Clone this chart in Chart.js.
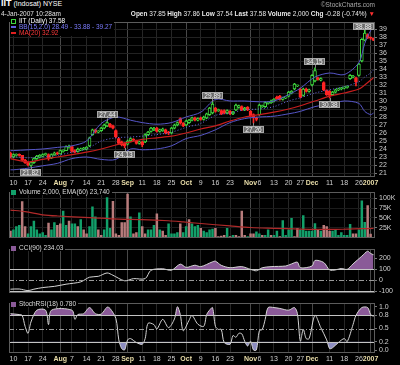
<!DOCTYPE html>
<html><head><meta charset="utf-8">
<script src="https://cdn.jsdelivr.net/npm/chart.js@4.4.1/dist/chart.umd.min.js"></script>
<style>
body{margin:0;background:#000;width:400px;height:365px;overflow:hidden;position:relative;font-family:"Liberation Sans",Arial,sans-serif;color:#e8e8e8}
canvas{position:absolute}
.t{position:absolute;white-space:nowrap;font-size:6.5px;line-height:7px;z-index:3}
.lg{background:#000;padding:0 2px 0 1px}
.ic{display:inline-block;width:5px;height:5px;margin-right:3px;vertical-align:-0.5px}
.dash{display:inline-block;width:5px;height:2px;margin-right:3px;vertical-align:1.5px}
b{font-weight:bold}
</style></head><body>

<div class="t" style="left:1px;top:0px;font-size:7px;color:#fff"><b style="font-size:9px">IIT</b> (Indosat) NYSE</div>
<div class="t" style="left:1px;top:10px;color:#e0e0e0">4-Jan-2007 10:28am</div>
<div class="t" style="right:25px;top:1px;color:#a8a8a8">©StockCharts.com</div>
<div class="t" style="right:25px;top:10px;color:#e8e8e8"><b>Open</b> 37.85 <b>High</b> 37.86 <b>Low</b> 37.54 <b>Last</b> 37.58 <b>Volume</b> 2,000 <b>Chg</b> -0.28 (-0.74%) <span style="color:#ff3030">▼</span></div>

<div class="t lg" style="left:10px;top:18px;line-height:6px">
<div style="color:#fff"><span class="ic" style="width:3px;border:1px solid #3fd83f;height:3px"></span>IIT (Daily) 37.58</div>
<div style="color:#7c7cff"><span class="dash" style="background:#6060e0"></span>BB(15,2.0) 28.49 - 33.88 - 39.27</div>
<div style="color:#ff3a3a"><span class="dash" style="background:#e02020"></span>MA(20) 32.92</div>
</div>
<div class="t lg" style="left:10px;top:188px;color:#dcdcdc"><span class="ic" style="background:#12a06a"></span>Volume 2,000, EMA(60) 23,740</div>
<div class="t lg" style="left:10px;top:244px;color:#dcdcdc"><span class="ic" style="background:#8a5a98"></span>CCI(90) 234.03</div>
<div class="t lg" style="left:10px;top:300px;color:#dcdcdc"><span class="ic" style="background:#8a5a98"></span>StochRSI(18) 0.780</div>

<canvas id="cp" width="392" height="176" style="left:8px;top:16px;width:392px;height:176px"></canvas>
<canvas id="cv" width="392" height="58" style="left:8px;top:186px;width:392px;height:58px"></canvas>
<canvas id="cc" width="392" height="56" style="left:8px;top:243px;width:392px;height:56px"></canvas>
<canvas id="cr" width="392" height="68" style="left:8px;top:297px;width:392px;height:68px"></canvas>

<script>
// ---------- DATA ----------
const dates = ['Jul 7','Jul 10','Jul 11','Jul 12','Jul 13','Jul 14','Jul 17','Jul 18','Jul 19','Jul 20','Jul 21','Jul 24','Jul 25','Jul 26','Jul 27','Jul 28','Jul 31',
'Aug 1','Aug 2','Aug 3','Aug 4','Aug 7','Aug 8','Aug 9','Aug 10','Aug 11','Aug 14','Aug 15','Aug 16','Aug 17','Aug 18','Aug 21','Aug 22','Aug 23','Aug 24','Aug 25','Aug 28','Aug 29','Aug 30','Aug 31',
'Sep 1','Sep 5','Sep 6','Sep 7','Sep 8','Sep 11','Sep 12','Sep 13','Sep 14','Sep 15','Sep 18','Sep 19','Sep 20','Sep 21','Sep 22','Sep 25','Sep 26','Sep 27','Sep 28','Sep 29',
'Oct 2','Oct 3','Oct 4','Oct 5','Oct 6','Oct 9','Oct 10','Oct 11','Oct 12','Oct 13','Oct 16','Oct 17','Oct 18','Oct 19','Oct 20','Oct 23','Oct 24','Oct 25','Oct 26','Oct 27','Oct 30','Oct 31',
'Nov 1','Nov 2','Nov 3','Nov 6','Nov 7','Nov 8','Nov 9','Nov 10','Nov 13','Nov 14','Nov 15','Nov 16','Nov 17','Nov 20','Nov 21','Nov 22','Nov 24','Nov 27','Nov 28','Nov 29','Nov 30',
'Dec 1','Dec 4','Dec 5','Dec 6','Dec 7','Dec 8','Dec 11','Dec 12','Dec 13','Dec 14','Dec 15','Dec 18','Dec 19','Dec 20','Dec 21','Dec 22','Dec 26','Dec 27','Dec 28','Dec 29',
'Jan 3','Jan 4'];

const openP = [23.5,23.0,23.2,23.3,23.2,22.6,22.3,21.95,22.3,22.8,
 23.0,23.1,23.3,23.3,22.9,23.3,23.5,23.4,23.7,23.8,
 24.2,24.3,23.8,23.7,23.9,24.0,24.0,24.4,25.8,26.4,
 26.1,26.3,26.6,26.9,27.1,26.9,26.3,25.3,24.9,24.7,
 24.6,25.0,25.2,25.0,24.7,24.9,24.9,25.8,26.2,26.4,
 26.6,26.2,26.3,26.4,26.1,26.0,26.6,27.0,27.8,27.2,
 27.0,27.3,27.6,27.9,27.6,27.9,27.7,27.9,28.3,28.5,
 29.1,28.8,28.8,28.8,28.5,28.7,28.4,28.9,29.2,29.3,
 28.9,29.2,28.7,28.3,27.9,28.3,29.3,29.3,29.7,29.8,
 30.0,30.5,30.6,30.2,30.4,30.6,31.0,31.5,31.9,31.5,
 30.7,31.5,31.2,32.0,32.5,32.9,32.6,32.3,31.3,31.2,
 30.8,31.1,31.4,31.5,31.6,31.7,32.8,33.0,32.9,33.2,
 35.0,37.6,38.3,37.9,37.85];
const highP = [23.6,23.4,23.4,23.4,23.2,22.7,22.4,22.4,22.9,23.2,
 23.3,23.4,23.5,23.4,23.4,23.6,23.6,23.9,23.9,24.4,
 24.5,24.3,23.9,24.1,24.1,24.2,24.3,25.5,26.5,26.5,
 26.3,26.7,27.1,27.44,27.2,27.0,26.4,25.4,25.0,24.8,
 25.1,25.4,25.3,25.1,25.0,25.0,25.9,26.2,26.7,26.7,
 26.7,26.5,26.6,26.5,26.2,26.7,27.1,27.4,27.9,27.3,
 27.6,27.7,28.0,28.0,27.9,28.0,28.1,28.5,29.2,29.89,
 29.2,29.0,28.9,28.9,28.9,28.8,28.7,29.6,29.5,29.4,
 29.2,29.3,28.8,28.4,28.0,29.6,29.5,29.9,29.9,30.1,
 30.3,30.6,30.7,30.5,30.5,31.2,31.3,32.2,32.0,31.6,
 31.6,31.6,31.5,33.3,34.15,33.0,32.9,32.4,31.4,31.3,
 31.2,31.5,31.6,31.7,31.8,31.9,33.3,33.2,33.0,34.7,
 37.8,38.88,38.4,38.0,37.86];
const lowP = [22.9,22.9,23.1,23.1,22.5,22.2,21.9,21.82,22.2,22.7,
 22.9,23.0,23.2,22.6,22.8,23.2,23.3,23.4,23.6,23.8,
 24.1,23.6,23.5,23.6,23.8,23.9,23.9,24.3,25.7,26.0,
 26.0,26.2,26.5,26.8,26.7,26.5,25.4,24.6,24.4,24.13,
 24.5,24.9,25.0,24.6,24.6,24.3,24.8,25.7,26.1,26.3,
 26.1,26.1,26.2,25.9,25.8,25.9,26.5,26.9,27.1,26.8,
 26.9,27.2,27.5,27.5,27.5,27.6,27.6,27.8,28.2,28.4,
 28.6,28.7,28.3,28.4,28.4,28.3,28.3,28.8,29.1,28.8,
 28.8,28.8,28.0,27.26,27.5,28.2,29.2,29.2,29.6,29.7,
 29.9,30.2,30.1,30.1,30.3,30.5,30.9,31.4,31.8,30.4,
 30.6,31.1,31.1,31.9,32.4,32.6,32.5,31.3,30.7,30.38,
 30.7,31.0,31.3,31.4,31.5,31.6,32.7,32.9,31.9,33.1,
 34.9,37.5,37.8,37.7,37.54];
const closeP = [23.0,23.3,23.3,23.2,22.6,22.3,22.0,22.3,22.8,23.1,
 23.2,23.3,23.4,22.8,23.3,23.5,23.4,23.8,23.8,24.3,
 24.3,23.7,23.6,24.0,24.0,24.1,24.2,25.4,26.4,26.1,
 26.2,26.6,27.0,27.3,26.8,26.6,25.5,24.7,24.5,24.4,
 25.0,25.3,25.1,24.7,24.9,24.5,25.8,26.1,26.6,26.6,
 26.2,26.4,26.5,26.0,26.0,26.6,27.0,27.3,27.3,26.9,
 27.5,27.6,27.9,27.6,27.8,27.7,28.0,28.4,29.1,29.6,
 28.7,28.9,28.4,28.5,28.8,28.4,28.6,29.5,29.4,28.9,
 29.1,28.9,28.1,28.0,27.7,29.5,29.4,29.8,29.8,30.0,
 30.2,30.3,30.2,30.4,30.4,31.1,31.2,32.1,31.9,30.5,
 31.5,31.2,31.4,33.2,33.8,32.7,32.8,31.4,30.8,30.7,
 31.1,31.4,31.5,31.6,31.7,31.8,33.2,33.1,32.4,34.6,
 37.7,38.5,37.9,37.86,37.58];

// Bollinger (15,2) and MA(20), read at weekly points
const bandDates = ['Jul 7','Jul 10','Jul 17','Jul 24','Jul 31','Aug 7','Aug 14','Aug 21','Aug 28','Sep 5','Sep 11','Sep 18','Sep 25','Oct 2','Oct 9','Oct 16','Oct 23','Oct 30','Nov 6','Nov 13','Nov 20','Nov 27','Dec 4','Dec 11','Dec 18','Dec 26','Dec 28','Jan 3','Jan 4'];
const bbUpper = [23.8,23.8,23.9,24.0,24.2,24.4,25.0,27.2,28.0,27.6,27.3,27.1,27.3,28.0,28.6,30.2,30.0,30.0,29.9,30.0,30.8,31.6,33.0,33.5,33.3,34.8,37.2,38.8,39.27];
const bbMid   = [23.0,23.0,22.9,23.0,23.2,23.6,24.0,25.0,25.4,25.5,25.6,25.8,26.1,26.7,27.2,28.2,28.5,28.9,29.0,29.3,30.0,30.4,31.0,31.4,31.8,32.4,33.0,33.5,33.88];
const bbLower = [21.4,21.4,21.6,21.9,22.2,22.8,23.0,22.7,22.7,24.0,23.9,24.0,24.4,25.3,25.7,26.4,27.3,27.8,28.0,28.1,28.4,28.7,29.3,29.6,30.0,29.7,28.7,28.3,28.49];
const ma20    = [22.8,22.7,22.4,22.7,23.0,23.3,23.6,24.0,24.5,24.9,25.2,25.4,25.6,26.0,26.5,26.9,27.5,28.0,28.3,28.6,29.0,29.4,30.0,30.6,31.0,31.5,32.0,32.6,32.92];

// Labelled extremes
const markDates = ['Jul 18','Aug 23','Aug 31','Oct 13','Nov 2','Dec 4','Dec 11','Dec 28'];
const markVals  = [21.82,27.44,24.13,29.89,27.26,34.15,30.38,38.88];
const markSide  = ['below','above','below','above','below','above','below','above'];

// Volume (thousands) and up/down flag
const volK = [18,21,29,32,92,29,11,29,43,21,
 11,14,7,38,21,39,32,36,68,32,
 43,36,36,29,47,21,11,29,79,54,
 21,7,21,102,25,93,11,7,39,39,
 111,54,11,14,64,29,11,21,21,32,
 61,21,18,7,36,11,11,14,36,14,
 29,47,36,29,32,25,18,14,21,23,
 25,4,5,7,25,4,7,7,4,68,
 7,4,11,11,16,11,7,7,21,7,
 7,18,4,44,7,21,50,4,25,21,
 57,18,18,18,37,21,18,32,29,18,
 18,21,7,14,7,7,35,11,11,21,
 94,40,82,10,2];
const volDir = ['d','u','u','u','d','d','u','u','u','u',
 'u','u','u','d','u','u','d','d','u','u',
 'd','u','u','d','u','d','d','u','u','u',
 'd','d','u','u','u','d','d','d','d','d',
 'd','u','d','d','u','d','d','u','u','u',
 'd','u','d','d','u','u','u','u','d','u',
 'u','d','u','u','u','d','u','u','u','u',
 'd','d','d','d','u','d','u','d','d','d',
 'd','u','d','d','u','u','d','u','u','d',
 'u','u','d','u','u','u','u','d','d','u',
 'u','u','u','u','u','d','u','d','d','d',
 'u','u','u','u','u','u','u','d','d','u',
 'u','u','d','d','d'];
const emaDates = ['Jul 7','Jul 14','Jul 24','Jul 31','Aug 15','Aug 29','Sep 11','Sep 22','Sep 29','Oct 9','Oct 23','Nov 1','Nov 13','Nov 27','Dec 12','Dec 19','Dec 27','Jan 4'];
const emaVals  = [70,66,58,55,51,47,46,43,40,36,30,26,24,22,21,22,23,23.74];

// CCI(90)
const cciDates = ['Jul 7','Jul 12','Jul 17','Jul 19','Jul 24','Jul 28','Aug 3','Aug 10','Aug 15','Aug 18','Aug 23','Aug 25','Aug 31','Sep 6','Sep 12','Sep 14','Sep 20','Sep 25','Sep 28','Oct 2','Oct 5','Oct 9','Oct 13','Oct 16','Oct 18','Oct 23','Oct 27','Nov 1','Nov 3','Nov 7','Nov 10','Nov 17','Nov 21','Nov 24','Nov 27','Dec 1','Dec 4','Dec 7','Dec 11','Dec 13','Dec 15','Dec 19','Dec 21','Dec 27','Dec 29','Jan 3','Jan 4'];
const cciVals  = [-82,-80,-95,-82,-67,-56,-36,-15,28,36,67,46,-5,15,15,92,105,92,148,118,138,125,169,175,137,115,125,100,87,115,125,131,150,166,115,131,182,163,95,95,108,100,150,221,267,246,234.03];

// StochRSI(18)
const rsiDates = ['Jul 7','Jul 12','Jul 13','Jul 14','Jul 17','Jul 18','Jul 20','Jul 25','Jul 26','Jul 27','Aug 7','Aug 8','Aug 9','Aug 11','Aug 15','Aug 17','Aug 21','Aug 23','Aug 24','Aug 28','Aug 29','Aug 30','Aug 31','Sep 1','Sep 5','Sep 7','Sep 11','Sep 12','Sep 13','Sep 15','Sep 18','Sep 20','Sep 22','Sep 26','Sep 27','Sep 28','Sep 29','Oct 3','Oct 4','Oct 6','Oct 10','Oct 11','Oct 12','Oct 13','Oct 16','Oct 17','Oct 18','Oct 19','Oct 23','Oct 24','Oct 25','Oct 26','Oct 27','Oct 30','Oct 31','Nov 1','Nov 2','Nov 3','Nov 6','Nov 7','Nov 8','Nov 9','Nov 13','Nov 15','Nov 20','Nov 22','Nov 24','Nov 27','Nov 28','Nov 29','Nov 30','Dec 4','Dec 6','Dec 8','Dec 11','Dec 12','Dec 14','Dec 18','Dec 19','Dec 21','Dec 22','Dec 27','Dec 29','Jan 3','Jan 4'];
const rsiVals  = [0.84,0.82,0.80,0.55,0.39,0.65,0.92,0.92,0.59,0.92,0.92,0.71,0.82,0.84,0.98,0.84,0.83,0.99,0.96,0.73,0.24,0.04,0.01,0.24,0.27,0.18,0.14,0.27,0.62,0.59,0.49,0.71,0.52,0.72,1.0,0.82,0.45,0.69,0.80,0.60,0.55,0.82,0.92,0.98,0.55,0.48,0.48,0.18,0.14,0.34,0.30,0.39,0.38,0.21,0.10,0.21,0.01,0.01,0.45,0.48,0.71,0.98,0.98,0.96,0.92,0.98,0.84,0.21,0.48,0.27,0.27,0.80,0.52,0.24,0.04,0.06,0.18,0.27,0.20,0.59,0.80,0.98,0.98,0.82,0.78];

// Axis ticks
const tickDates = ['Jul 10','Jul 17','Jul 24','Aug 1','Aug 7','Aug 14','Aug 21','Aug 28','Sep 1','Sep 11','Sep 18','Sep 25','Oct 2','Oct 9','Oct 16','Oct 23','Nov 1','Nov 6','Nov 13','Nov 20','Nov 27','Dec 1','Dec 11','Dec 18','Dec 26','Jan 3'];
const tickText  = ['10','17','24','Aug','7','14','21','28','Sep','11','18','25','Oct','9','16','23','Nov','6','13','20','27','Dec','11','18','26','2007'];
const priceTicks = [21,22,23,24,25,26,27,28,29,30,31,32,33,34,35,36,37,38,39];
const volTicks = [25,50,75,100];
const cciTicks = [-100,0,100,200];
const rsiTicks = [0,0.2,0.5,0.8,1.0];
const cciLevels = [100,0,-100];
const rsiLevels = [0.8,0.5,0.2];

// ---------- RENDER ----------
const FONT = '"Liberation Sans", Arial, sans-serif';
Chart.defaults.font.family = FONT;
Chart.defaults.font.size = 7;
Chart.defaults.color = '#cfcfcf';
Chart.defaults.animation = false;
Chart.defaults.events = [];
Chart.defaults.plugins.legend.display = false;
Chart.defaults.plugins.tooltip.enabled = false;

const tickMap = {};
tickDates.forEach((d,k)=>{ tickMap[d] = tickText[k]; });
const isMonth = t => /[A-Za-z]/.test(t) || t === '2007';
const pts = (ds, vs) => ds.map((d,k)=>({x:d, y:vs[k]}));

function xAxis(showLabels, h){
  return {
    type:'category', offset:true,
    grid:{offset:false, drawTicks:false, lineWidth:1,
      color:c=>{ const t = tickMap[dates[c.index]]; if(t===undefined) return 'rgba(0,0,0,0)'; return isMonth(t)?'#484848':'#262626'; }},
    border:{display:false},
    ticks:{display:showLabels, autoSkip:false, maxRotation:0, minRotation:0, padding:2,
      callback:(v,i)=> tickMap[dates[i]] || '',
      color:c=>{ const t = tickMap[dates[c.index]]; return (t && isMonth(t)) ? '#e8dca8' : '#cfcfcf'; },
      font:c=>{ const t = tickMap[dates[c.index]]; return {family:FONT, size:7, weight:(t && isMonth(t))?'bold':'normal'}; }},
    afterFit:s=>{ s.height = h; }
  };
}
function yAxis(min, max, ticksArr, fmt, gridCol){
  return {
    position:'right', min, max,
    afterBuildTicks:s=>{ s.ticks = ticksArr.map(v=>({value:v})); },
    grid:{color:gridCol || 'rgba(0,0,0,0)', drawOnChartArea: gridCol !== null, drawTicks:true, tickLength:2, tickColor:'#777'},
    border:{display:false},
    ticks:{padding:2, color:'#cfcfcf', autoSkip:false, callback:v=>fmt(v)},
    afterFit:s=>{ s.width = 25; }
  };
}
const framePlugin = {id:'frame', afterDraw(chart){
  const {ctx, chartArea:a} = chart;
  ctx.save(); ctx.strokeStyle = '#5c5c5c'; ctx.lineWidth = 1;
  ctx.strokeRect(Math.round(a.left)+0.5, Math.round(a.top)+0.5, Math.round(a.right-a.left)-1, Math.round(a.bottom-a.top)-1);
  ctx.restore();
}};
const refPlugin = {id:'refLines', afterDatasetsDraw(chart, args, opts){
  if(!opts || !opts.levels) return;
  const {ctx, chartArea:a} = chart; const ys = chart.scales.y;
  ctx.save();
  opts.levels.forEach((v,k)=>{
    const y = Math.round(ys.getPixelForValue(v)) + 0.5;
    const mid = k === 1;
    ctx.strokeStyle = mid ? '#9a9a9a' : '#c4c4c4';
    ctx.setLineDash(mid ? [5,2,1,2] : []);
    ctx.beginPath(); ctx.moveTo(a.left, y); ctx.lineTo(a.right, y); ctx.stroke();
  });
  ctx.restore();
}};
const marksPlugin = {id:'marks', afterDatasetsDraw(chart){
  const {ctx, chartArea:a} = chart; const xs = chart.scales.x, ys = chart.scales.y;
  ctx.save();
  ctx.font = '6.5px ' + FONT; ctx.textAlign = 'center'; ctx.textBaseline = 'middle';
  markDates.forEach((d,k)=>{
    const x = xs.getPixelForValue(dates.indexOf(d));
    const y = ys.getPixelForValue(markVals[k]);
    const txt = markVals[k].toFixed(2);
    const w = Math.ceil(ctx.measureText(txt).width) + 4, h = 7;
    const above = markSide[k] === 'above';
    let by = above ? y - 3 - h : y + 3;
    by = Math.max(a.top + 1, Math.min(a.bottom - h - 1, by));
    let bx = x - w/2;
    if (bx + w > a.right - 1) bx = a.right - 1 - w;
    if (bx < a.left + 1) bx = a.left + 1;
    ctx.strokeStyle = '#8a8a8a'; ctx.lineWidth = 1;
    ctx.beginPath(); ctx.moveTo(Math.round(x)+0.5, y); ctx.lineTo(Math.round(x)+0.5, above ? by + h : by); ctx.stroke();
    ctx.fillStyle = '#6c6c6c'; ctx.fillRect(Math.round(bx), Math.round(by), w, h);
    ctx.strokeStyle = '#a8a8a8'; ctx.strokeRect(Math.round(bx)+0.5, Math.round(by)+0.5, w-1, h-1);
    ctx.fillStyle = '#f2f2f2'; ctx.fillText(txt, Math.round(bx) + w/2, Math.round(by) + h/2 + 0.5);
  });
  ctx.restore();
}};

const up = dates.map((d,i)=> closeP[i] >= openP[i]);
const candleCol = up.map(u => u ? '#3fd83f' : '#ff2424');
const bodyFill = up.map(u => u ? '#000000' : '#ff2424');
const lineBase = {type:'line', pointRadius:0, borderWidth:1, tension:0.3, order:1};

new Chart(document.getElementById('cp'), {
  type:'bar',
  data:{labels:dates, datasets:[
    Object.assign({}, lineBase, {data:pts(bandDates, bbUpper), borderColor:'#5656c8'}),
    Object.assign({}, lineBase, {data:pts(bandDates, bbMid), borderColor:'#6a6ae6', borderDash:[1,2]}),
    Object.assign({}, lineBase, {data:pts(bandDates, bbLower), borderColor:'#5656c8'}),
    Object.assign({}, lineBase, {data:pts(bandDates, ma20), borderColor:'#c81e1e', borderWidth:1.2}),
    {data:dates.map((d,i)=>[lowP[i], highP[i]]), backgroundColor:candleCol, barThickness:1, grouped:false, order:10, minBarLength:1},
    {data:dates.map((d,i)=>[openP[i], closeP[i]]), backgroundColor:bodyFill, borderColor:candleCol, borderWidth:1, borderSkipped:false, barThickness:3, grouped:false, minBarLength:1, order:5}
  ]},
  options:{responsive:false, maintainAspectRatio:false,
    layout:{padding:{left:1, top:1.5, right:0, bottom:0}},
    scales:{x:xAxis(true, 15), y:yAxis(20.5, 39.85, priceTicks, v=>String(v), '#222222')}
  },
  plugins:[framePlugin, marksPlugin]
});

new Chart(document.getElementById('cv'), {
  type:'bar',
  data:{labels:dates, datasets:[
    Object.assign({}, lineBase, {data:pts(emaDates, emaVals), borderColor:'#b02a2a', borderWidth:1.2}),
    {data:volK, backgroundColor:volDir.map(f=> f==='u' ? '#12a06a' : '#b87c7c'), barPercentage:0.85, categoryPercentage:1, order:5}
  ]},
  options:{responsive:false, maintainAspectRatio:false,
    layout:{padding:{left:1, top:2, right:0, bottom:2}},
    scales:{x:xAxis(false, 0), y:yAxis(0, 115, volTicks, v=>v+'K', '#1c1c1c')}
  },
  plugins:[framePlugin]
});

new Chart(document.getElementById('cc'), {
  type:'line',
  data:{labels:dates, datasets:[
    {data:pts(cciDates, cciVals), borderColor:'#d4d4d4', borderWidth:1, pointRadius:0, tension:0.3,
     fill:{target:{value:100}, above:'#8a5a98', below:'rgba(0,0,0,0)'}}
  ]},
  options:{responsive:false, maintainAspectRatio:false,
    layout:{padding:{left:1, top:2, right:0, bottom:2}},
    plugins:{refLines:{levels:cciLevels}},
    scales:{x:xAxis(false, 0), y:yAxis(-115, 285, cciTicks, v=>String(v), null)}
  },
  plugins:[framePlugin, refPlugin]
});

new Chart(document.getElementById('cr'), {
  type:'line',
  data:{labels:dates, datasets:[
    {data:pts(rsiDates, rsiVals), borderColor:'#d4d4d4', borderWidth:1, pointRadius:0, tension:0.3,
     fill:{target:{value:0.8}, above:'#8a5a98', below:'rgba(0,0,0,0)'}},
    {data:pts(rsiDates, rsiVals), borderWidth:0, borderColor:'rgba(0,0,0,0)', pointRadius:0, tension:0.3,
     fill:{target:{value:0.2}, above:'rgba(0,0,0,0)', below:'#8c8cc0'}}
  ]},
  options:{responsive:false, maintainAspectRatio:false,
    layout:{padding:{left:1, top:2, right:0, bottom:0}},
    plugins:{refLines:{levels:rsiLevels}},
    scales:{x:xAxis(true, 12), y:yAxis(-0.06, 1.08, rsiTicks, v=>v.toFixed(1), null)}
  },
  plugins:[framePlugin, refPlugin]
});
</script>
</body></html>
